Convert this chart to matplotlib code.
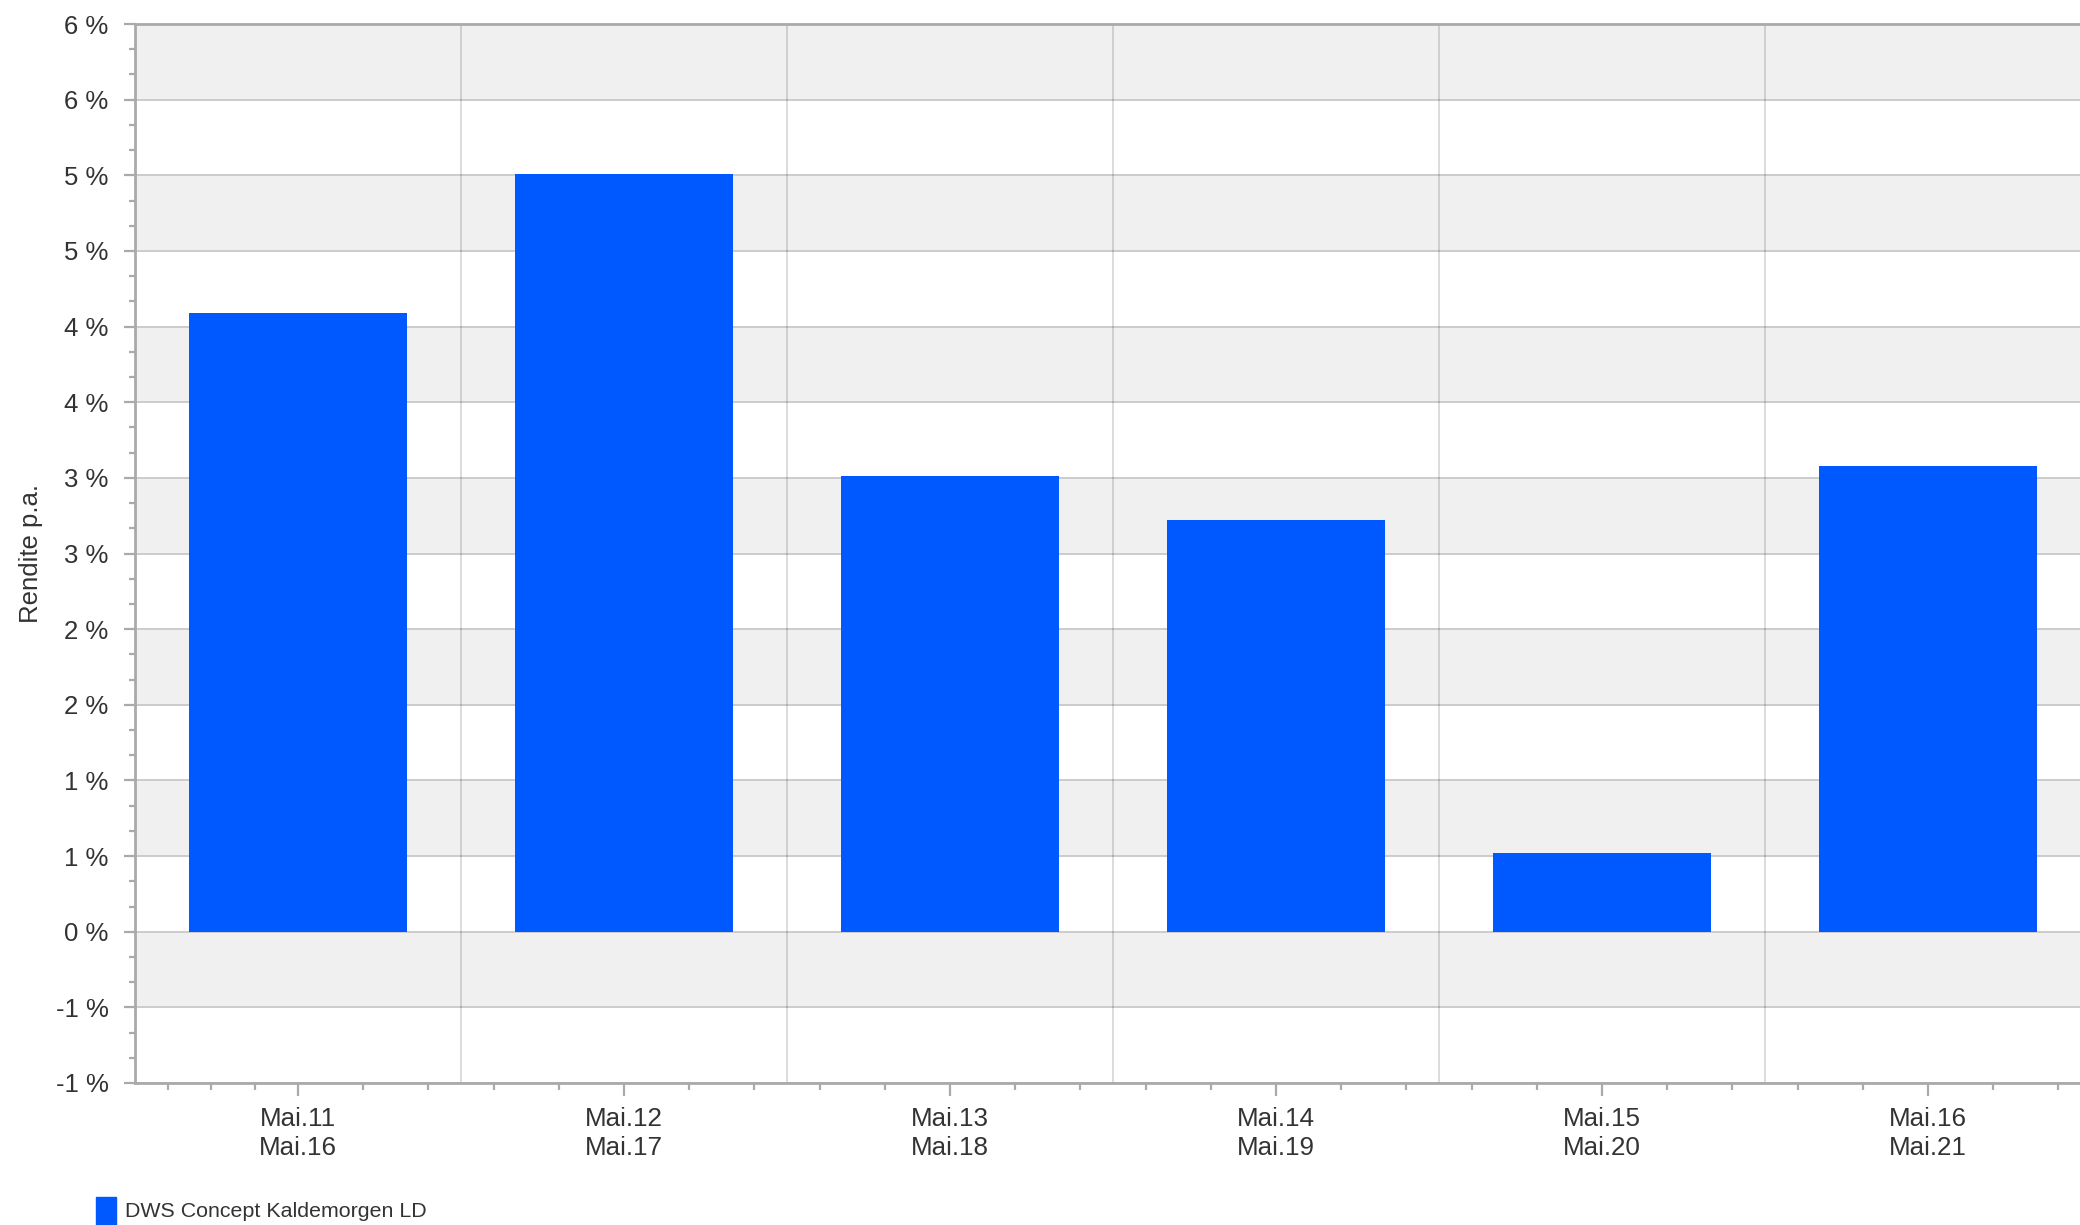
import math
import matplotlib
matplotlib.use('Agg')
import matplotlib.pyplot as plt
from matplotlib.patches import Rectangle
from matplotlib.ticker import MultipleLocator, FixedLocator, FuncFormatter

plt.rcParams['font.family'] = ['Liberation Sans', 'DejaVu Sans']

# data
periods_start = ['Mai.11', 'Mai.12', 'Mai.13', 'Mai.14', 'Mai.15', 'Mai.16']
periods_end = ['Mai.16', 'Mai.17', 'Mai.18', 'Mai.19', 'Mai.20', 'Mai.21']
returns_pa = [4.09, 5.01, 3.01, 2.72, 0.52, 3.08]
series_name = 'DWS Concept Kaldemorgen LD'
y_label = 'Rendite p.a.'

bar_color = '#0059ff'
text_color = '#333333'
axis_color = '#aaaaaa'

fig = plt.figure(figsize=(20.8, 12.25), dpi=100)
ax = fig.add_axes([135 / 2080, 1 - 1083 / 1225, 1956 / 2080, (1083 - 24) / 1225])

ymin, ymax = -1, 6
ax.set_ylim(ymin, ymax)
ax.set_xlim(-0.5, len(returns_pa) - 0.5)

# alternating bands between the 0.5 % grid lines
step = 0.5
k = 0
v = ymin
while v < ymax:
    if k % 2 == 1:
        ax.axhspan(v, v + step, color='#f0f0f0', lw=0, zorder=0)
    v += step
    k += 1

ax.yaxis.set_major_locator(MultipleLocator(step))
ax.yaxis.set_minor_locator(MultipleLocator(step / 3))
ax.grid(axis='y', which='major', color='#cccccc', lw=1.4, zorder=1)
ax.set_axisbelow(True)

# vertical lines between categories
for i in range(len(returns_pa) - 1):
    ax.axvline(i + 0.5, color='black', alpha=0.14, lw=1.4, zorder=1)

x = list(range(len(returns_pa)))
ax.bar(x, returns_pa, width=0.667, color=bar_color, zorder=2)


def pct(val, pos):
    r = math.copysign(math.floor(abs(val) + 0.5), val)
    return '%d %%' % r


ax.yaxis.set_major_formatter(FuncFormatter(pct))

ax.set_xticks(x)
ax.set_xticklabels([a + '\n' + b for a, b in zip(periods_start, periods_end)])
minor_x = [-0.4, -0.267, -0.132, 0.2, 0.4]
for i in x[1:]:
    minor_x += [i - 0.4, i - 0.2, i + 0.2, i + 0.4]
ax.xaxis.set_minor_locator(FixedLocator(minor_x))

ax.tick_params(axis='both', which='both', colors=axis_color, labelcolor=text_color,
               width=1.6)
ax.tick_params(axis='y', which='major', length=8, pad=11, labelsize=18.5)
ax.tick_params(axis='y', which='minor', length=4)
ax.tick_params(axis='x', which='major', length=9, pad=8, labelsize=18.7)
ax.tick_params(axis='x', which='minor', length=5)
for lbl in ax.get_xticklabels():
    lbl.set_linespacing(1.3)

for s in ax.spines.values():
    s.set_color(axis_color)
    s.set_linewidth(2)

ax.set_ylabel(y_label, fontsize=18.5, color=text_color)
ax.yaxis.set_label_coords(-0.053, 0.5)
ax.yaxis.label.set_va('center')

# legend at the bottom edge
fig.patches.append(Rectangle((96 / 2080, 0), 20 / 2080, 28 / 1225,
                             transform=fig.transFigure, color=bar_color))
fig.text(125 / 2080, 4 / 1225, series_name, fontsize=15.4, color=text_color,
         ha='left', va='bottom')

fig.savefig('out.png', dpi=100)
